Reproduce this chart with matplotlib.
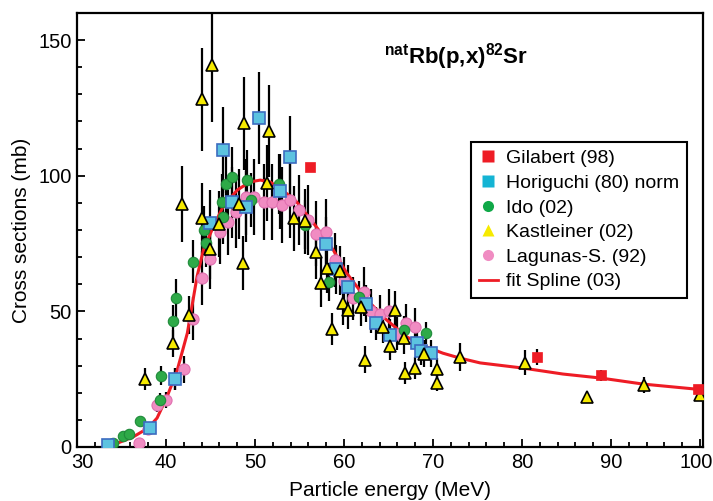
import numpy as np
import matplotlib as mpl
mpl.use('Agg')
import matplotlib.pyplot as plt
import matplotlib.transforms as mtrans
from matplotlib.lines import Line2D
from matplotlib.ticker import MultipleLocator
from matplotlib import font_manager

names = set(f.name for f in font_manager.fontManager.ttflist)
fam = 'Liberation Sans' if 'Liberation Sans' in names else 'DejaVu Sans'
plt.rcParams['font.family'] = [fam, 'DejaVu Sans']
plt.rcParams['mathtext.fontset'] = 'custom'
plt.rcParams['mathtext.rm'] = fam
plt.rcParams['mathtext.bf'] = fam + ':bold'

# Gilabert (98)
gil_x = [56.2, 81.7, 88.9, 99.8]
gil_y = [103.2, 33.2, 26.5, 21.4]
gil_e = [0.0, 3.0, 2.0, 1.0]

# Horiguchi (80) norm
hor_x = [33.5, 38.2, 41.0, 45.0, 46.45, 47.45, 48.95, 50.4, 52.8, 53.95,
         58.0, 59.1, 60.5, 62.45, 63.6, 65.2, 68.2, 68.65, 69.8]
hor_y = [0.8, 6.9, 25.1, 82.7, 109.5, 90.2, 88.6, 121.2, 94.2, 106.9,
         74.7, 65.5, 59.0, 52.9, 45.6, 41.3, 38.2, 35.4, 34.5]
hor_e = [0.5, 1, 4, 12, 16, 13, 13, 17, 14, 15,
         10, 9, 8, 7, 6, 6, 5, 5, 5]

# Ido (02)
ido_x = [33.7, 34.1, 35.2, 35.8, 37.1, 39.3, 39.4, 40.8, 41.1, 43.0, 44.3, 44.55,
         46.25, 46.45, 46.7, 47.45, 49.15, 49.6, 52.7, 55.65, 58.3, 61.65, 66.7, 69.25]
ido_y = [0.8, 1.6, 4.1, 4.8, 9.6, 17.3, 26.3, 46.4, 55.0, 68.3, 80.0, 75.2,
         90.5, 84.8, 97.0, 99.5, 98.4, 91.0, 97.0, 82.0, 60.8, 55.3, 43.2, 42.0]
ido_e = [0.5, 0.5, 0.8, 0.8, 1.5, 2.5, 3.5, 6, 7, 8, 9, 9,
         10, 10, 11, 11, 11, 10, 11, 9, 7, 6, 5, 4]

# Kastleiner (02)
kas_x = [37.6, 40.75, 41.8, 42.6, 44.0, 44.1, 45.0, 45.2, 46.0, 48.2, 48.6, 48.8, 51.3,
         51.6, 54.4, 55.6, 56.85, 57.4, 58.1, 58.7, 59.55, 59.9, 60.4, 61.9, 62.4, 64.4,
         65.2, 65.7, 66.7, 66.8, 68.0, 69.0, 70.5, 70.5, 73.0, 80.3, 87.3, 93.7, 100.0]
kas_y = [25.0, 38.3, 89.6, 48.6, 84.3, 128.2, 73.0, 140.8, 82.2, 89.6, 67.7, 119.3, 97.3,
         116.5, 84.3, 83.2, 72.0, 60.6, 65.9, 43.5, 65.0, 53.1, 50.5, 51.5, 32.1, 44.3,
         37.1, 50.5, 40.3, 27.3, 29.2, 34.4, 28.7, 23.5, 33.2, 31.1, 18.5, 22.8, 19.2]
kas_e = [4, 5, 14, 7, 13, 19, 11, 21, 12, 13, 10, 17, 14,
         17, 12, 12, 10, 9, 9, 6, 9, 8, 7, 7, 5, 6,
         5, 7, 6, 4, 4, 5, 4, 3, 5, 4.5, 1, 3, 2]

# Lagunas-S. (92)
lag_x = [37.0, 38.0, 39.0, 40.0, 41.0, 42.0, 43.0, 44.05, 45.0, 46.1, 47.0, 47.9, 48.95,
         49.85, 51.0, 51.9, 53.0, 53.95, 55.0, 56.0, 56.9, 58.0, 59.0, 60.05, 61.0, 62.2,
         63.0, 64.0, 65.05, 66.0, 67.0, 68.0]
lag_y = [1.3, 6.5, 15.5, 17.3, 25.1, 28.7, 47.3, 62.3, 69.3, 79.4, 82.8, 86.5, 92.0,
         92.0, 90.3, 90.4, 89.3, 91.0, 87.4, 83.7, 78.6, 79.4, 68.9, 61.2, 54.8, 57.2,
         50.1, 48.9, 50.1, 41.8, 45.6, 44.2]
lag_e = [0.5, 1, 2.5, 3, 4, 5, 8, 10, 11, 12, 12, 13, 14,
         14, 14, 14, 14, 14, 13, 13, 12, 12, 10, 9, 8, 9,
         8, 7, 8, 6, 7, 7]

# fit Spline (03)
fit_x = [33.0, 34.3, 36.3, 38.0, 39.0, 40.1, 41.2, 42.4, 43.5, 44.2, 45.3, 46.4, 48.0,
         49.4, 50.6, 51.7, 53.1, 54.7, 55.4, 57.0, 58.8, 60.3, 62.6, 64.8, 67.1, 69.3,
         71.1, 73.0, 75.3, 80.1, 84.6, 88.9, 93.6, 100.0]
fit_y = [0.0, 1.1, 3.7, 7.0, 10.7, 18.4, 27.6, 42.0, 63.0, 72.6, 81.1, 88.5, 94.7,
         97.7, 98.4, 97.7, 94.7, 90.3, 87.4, 80.7, 72.6, 64.1, 54.2, 46.8, 40.5, 36.9,
         34.6, 32.8, 31.0, 29.1, 26.9, 25.4, 23.2, 21.2]

c_red = '#ee1c25'
c_cyan = '#5cc3e0'
c_cyan_e = '#3c6cc0'
c_green = '#2eaa48'
c_yellow = '#f6ea00'
c_pink = '#f08cc2'

fig = plt.figure(figsize=(7.13, 5.01), dpi=100)
ax = fig.add_axes([77/713, 54/501, 626/713, 434/501])

ekw = dict(fmt='none', ecolor='black', elinewidth=1.6, capsize=0, zorder=2)
for xs, ys, es in [(gil_x, gil_y, gil_e), (hor_x, hor_y, hor_e), (ido_x, ido_y, ido_e),
                   (kas_x, kas_y, kas_e), (lag_x, lag_y, lag_e)]:
    ax.errorbar(xs, ys, yerr=es, **ekw)

ax.plot(fit_x, fit_y, color=c_red, lw=2.2, zorder=3)

ax.plot(lag_x, lag_y, 'o', ms=8, mfc=c_pink, mec='#e070b0', mew=0.8, zorder=4)
ax.plot(ido_x, ido_y, 'o', ms=7.5, mfc=c_green, mec='#1f8a3a', mew=0.8, zorder=4)
ax.plot(hor_x, hor_y, 's', ms=8, mfc=c_cyan, mec=c_cyan_e, mew=1.2, zorder=4)
ax.plot(kas_x, kas_y, '^', ms=9, mfc=c_yellow, mec='black', mew=1.2, zorder=5)
ax.plot(gil_x, gil_y, 's', ms=7.5, mfc=c_red, mec=c_red, mew=0.5, zorder=5)

ax.set_xlim(30, 100.34)
ax.set_ylim(0, 160)
ax.xaxis.set_major_locator(MultipleLocator(10))
ax.xaxis.set_minor_locator(MultipleLocator(2))
ax.yaxis.set_major_locator(MultipleLocator(50))
ax.yaxis.set_minor_locator(MultipleLocator(10))
ax.tick_params(which='both', direction='in', top=False, right=False, width=1.3,
               labelsize=14.5)
ax.tick_params(axis='x', which='major', pad=4.5)
ax.tick_params(axis='y', which='major', pad=4)
ax.tick_params(which='major', length=6)
ax.tick_params(which='minor', length=3.5)
for s in ax.spines.values():
    s.set_linewidth(1.6)

ax.set_xlabel('Particle energy (MeV)', fontsize=15, labelpad=6)
ax.set_ylabel('Cross sections (mb)', fontsize=15, labelpad=5)

ax.text(0.605, 0.9, r'$^{\mathbf{nat}}$Rb(p,x)$^{\mathbf{82}}$Sr', transform=ax.transAxes,
        fontsize=16, fontweight='bold', ha='center', va='center')

handles = [
    Line2D([], [], ls='none', marker='s', ms=8, mfc=c_red, mec='none'),
    Line2D([], [], ls='none', marker='s', ms=8, mfc='#14b4d4', mec='none'),
    Line2D([], [], ls='none', marker='o', ms=8, mfc='#10a848', mec='none'),
    Line2D([], [], ls='none', marker='^', ms=9, mfc=c_yellow, mec='none'),
    Line2D([], [], ls='none', marker='o', ms=8, mfc=c_pink, mec='none'),
    Line2D([], [], color=c_red, lw=2),
]
labels = ['Gilabert (98)', 'Horiguchi (80) norm', 'Ido (02)', 'Kastleiner (02)',
          'Lagunas-S. (92)', 'fit Spline (03)']
leg = ax.legend(handles, labels, loc='upper right', bbox_to_anchor=(0.974, 0.703),
                fontsize=14, frameon=True, fancybox=False, handlelength=1.0,
                handletextpad=0.4, labelspacing=0.36, borderpad=0.4, borderaxespad=0)
leg.get_frame().set_edgecolor('black')
leg.get_frame().set_linewidth(1.5)
leg.get_frame().set_alpha(1)

# nudge the end labels of the x axis as in the original
fig.canvas.draw()
shifts = {'100': -3, '30': 4}
for t in ax.xaxis.get_major_ticks():
    dx = shifts.get(t.label1.get_text())
    if dx:
        t.label1.set_transform(t.label1.get_transform() +
                               mtrans.ScaledTranslation(dx/72, 0, fig.dpi_scale_trans))

fig.savefig('out.png', dpi=100)
